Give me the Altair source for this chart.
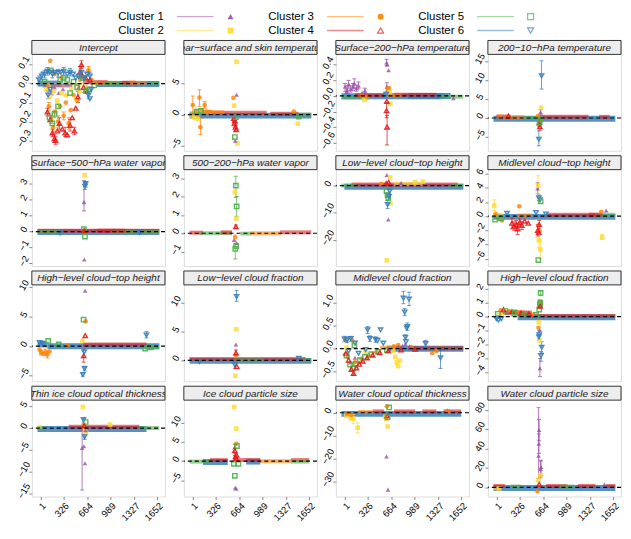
import altair as alt
import pandas as pd

CLUSTERS = ["Cluster 1", "Cluster 2", "Cluster 3", "Cluster 4", "Cluster 5", "Cluster 6"]
COLORS = ["#984EA3", "#FFD92F", "#FF7F00", "#E41A1C", "#4DAF4A", "#377EB8"]
SHAPES = ["triangle-up", "square", "circle", "triangle-up", "square", "triangle-down"]
LEG_COL = [0, 0, 1, 1, 2, 2]
LEG_ROW = [0, 1, 0, 1, 0, 1]
X_TICKS = [1, 326, 664, 989, 1327, 1652]
X_DOMAIN = [-120, 1760]

# ---------------- panel data: bands (cluster, x0, x1, y) and points (cluster, x, y[, lo, hi])
INTERCEPT_BANDS = [(6, -40, 300, 0.0), (2, 100, 600, -0.006), (1, 150, 450, -0.01), (4, 600, 950, 0.008),
                   (3, 700, 1100, 0.004), (6, 800, 1680, -0.002), (5, 900, 1250, 0.001), (4, 1150, 1350, 0.005),
                   (3, 1250, 1500, 0.004), (5, 1550, 1680, -0.002)]
INTERCEPT_PTS = [
    (3, 140, 0.12), (3, 90, -0.01), (3, 120, -0.12, -0.14, -0.10), (3, 150, -0.19, -0.21, -0.17), (3, 180, -0.23, -0.25, -0.21),
    (3, 210, -0.15), (3, 250, -0.20, -0.23, -0.17), (3, 280, -0.12), (3, 330, -0.17, -0.19, -0.15), (3, 360, -0.10),
    (3, 400, -0.21, -0.24, -0.18), (3, 430, -0.14), (3, 470, -0.06), (3, 520, -0.09), (3, 560, 0.02),
    (3, 680, 0.07, 0.05, 0.09), (3, 720, 0.02), (3, 300, 0.03), (3, 200, 0.05),
    (4, 100, -0.15, -0.17, -0.13), (4, 140, -0.19), (4, 170, -0.26, -0.28, -0.24), (4, 200, -0.29, -0.31, -0.27),
    (4, 215, -0.30, -0.32, -0.28), (4, 240, -0.25), (4, 270, -0.21, -0.24, -0.18), (4, 310, -0.24),
    (4, 350, -0.26, -0.28, -0.23), (4, 380, -0.27), (4, 420, -0.22, -0.25, -0.19), (4, 450, -0.18),
    (4, 480, -0.25, -0.27, -0.23), (4, 500, -0.13), (4, 530, -0.07, -0.10, -0.04), (4, 560, 0.06, 0.03, 0.09),
    (4, 580, 0.10, 0.08, 0.12), (4, 595, 0.04), (4, 610, -0.02), (4, 640, 0.03), (4, 660, -0.04), (4, 700, 0.02),
    (5, 150, 0.07), (5, 60, 0.01), (5, 130, -0.18, -0.20, -0.16), (5, 170, -0.21), (5, 200, -0.16, -0.18, -0.14),
    (5, 250, -0.12), (5, 280, 0.02), (5, 330, 0.03), (5, 380, 0.02), (5, 420, -0.05), (5, 470, 0.01),
    (5, 520, -0.02), (5, 600, 0.03), (5, 650, -0.04), (5, 690, -0.03), (5, 760, -0.01),
    (6, -20, 0.02, 0.0, 0.04), (6, 20, 0.04, 0.02, 0.06), (6, 60, 0.05, 0.03, 0.07), (6, 100, 0.065, 0.045, 0.085),
    (6, 130, 0.06), (6, 170, 0.05, 0.03, 0.07), (6, 210, 0.06), (6, 250, 0.055, 0.035, 0.075), (6, 290, 0.06),
    (6, 330, 0.065, 0.045, 0.085), (6, 380, 0.05), (6, 420, 0.06, 0.04, 0.08), (6, 460, 0.05), (6, 500, 0.03),
    (6, 540, 0.04), (6, 580, 0.06, 0.04, 0.09), (6, 620, 0.03), (6, 660, 0.05), (6, 700, 0.04, 0.02, 0.06),
    (6, 110, -0.06, -0.08, -0.04), (6, 140, -0.03), (6, 680, -0.06, -0.08, -0.04), (6, 700, -0.08), (6, 720, -0.03),
    (1, 60, -0.01), (1, 110, -0.03), (1, 160, -0.04, -0.06, -0.02), (1, 200, -0.02), (1, 260, -0.05),
    (1, 320, -0.03), (1, 380, 0.0), (1, 540, -0.02), (1, 620, -0.04), (1, 700, 0.01),
    (2, 80, -0.03), (2, 130, -0.07), (2, 190, -0.04), (2, 240, -0.09), (2, 300, -0.05), (2, 360, -0.06),
    (2, 440, -0.03), (2, 500, -0.08), (2, 560, -0.04), (2, 640, -0.02)]

NEARSURF_BANDS = [(6, -40, 1680, -0.15), (4, 250, 1050, 0.3), (5, -40, 200, 0.2), (3, 150, 450, 0.4),
                  (2, -40, 100, -0.3), (5, 1500, 1680, 0.0), (4, 1100, 1500, 0.15)]
NEARSURF_PTS = [
    (3, 6, 1.55, 0.1, 3.0), (3, 100, 2.75, 1.3, 4.0), (3, 114, -2.0, -3.2, -0.6), (3, 174, 1.55, 1.05, 2.1),
    (3, 50, 0.6), (3, 140, 0.7), (3, 200, 0.5), (3, 230, 0.4), (3, 260, 0.4), (5, 60, 0.5), (5, 120, 0.6),
    (2, 30, -0.5), (2, 80, -0.7), (1, 624, 3.2), (3, 580, 2.7), (2, 624, 8.5), (2, 590, 1.45), (2, 636, -4.6),
    (5, 600, -3.6), (1, 605, -4.2), (4, 585, -0.6, -1.2, -0.1), (4, 595, -1.4, -2.0, -0.8),
    (4, 610, -2.0, -2.6, -1.3), (4, 620, -2.4), (4, 600, -1.0), (3, 590, -0.9), (5, 615, -0.4),
    (3, 1433, 0.5), (2, 1489, -1.45), (5, 1500, -0.3)]

SURF200_BANDS = [(5, -40, 350, -0.02), (6, -40, 1400, -0.005), (4, 150, 560, 0.01), (4, 700, 1300, 0.015),
                 (6, 900, 1500, 0.0), (5, 1350, 1680, -0.01), (3, 600, 800, 0.005)]
SURF200_PTS = [
    (1, 10, 0.12, 0.06, 0.16), (1, 40, 0.08, 0.04, 0.13), (1, 60, 0.15, 0.10, 0.20), (1, 90, 0.09, 0.05, 0.13),
    (1, 120, 0.12, 0.07, 0.16), (1, 140, 0.16, 0.10, 0.22), (1, 170, 0.10, 0.06, 0.14), (1, 200, 0.13, 0.09, 0.18),
    (1, 290, 0.07, 0.04, 0.10), (1, 30, 0.05), (1, 250, 0.04), (2, 283, -0.05), (3, 250, 0.0), (3, 320, -0.01),
    (1, 596, 0.43, 0.39, 0.47), (1, 606, 0.40), (1, 625, 0.33), (1, 600, 0.12, 0.06, 0.17), (3, 612, 0.09),
    (3, 630, 0.1), (2, 640, 0.05), (2, 650, -0.1), (4, 600, -0.07), (4, 596, -0.19, -0.28, -0.08),
    (4, 603, -0.40, -0.63, -0.25), (6, 590, 0.02), (1, 1540, -0.03)]

TEMP10_BANDS = [(6, -40, 1680, -0.2), (4, 0, 200, 0.4), (4, 600, 1300, 0.3), (3, 100, 400, 0.2),
                (5, 400, 650, 0.0), (4, 1450, 1600, 0.3)]
TEMP10_PTS = [(6, 638, 11.1, 7.6, 15.0), (6, 600, -5.6, -7.3, -3.4), (2, 630, 2.7), (1, 625, 1.5, 0.8, 2.2),
              (4, 605, -1.3, -2.3, -0.5), (4, 615, -2.3, -3.2, -1.4), (5, 620, -0.4), (5, 610, -1.1),
              (3, 48, 0.4), (4, 170, 0.5), (3, 590, 0.6)]

WV500_BANDS = [(4, -40, 1680, 0.05), (6, -40, 1680, -0.03), (5, -40, 300, 0.0), (5, 1000, 1680, -0.02),
               (4, 800, 1200, 0.06)]
WV500_PTS = [(2, 624, 3.54), (6, 640, 3.0, 2.8, 3.15), (6, 630, 2.85, 2.65, 3.05), (1, 617, 1.85, 1.3, 3.2),
             (1, 620, -1.75), (5, 630, -0.31), (3, 625, -0.1), (5, 615, 0.15), (4, 620, 0.05),
             (6, 280, -0.08), (6, 1400, -0.05)]

WV200_BANDS = [(4, -40, 150, 0.03), (5, 100, 560, 0.0), (4, 400, 560, 0.05), (5, 680, 830, -0.02),
               (3, 820, 1250, 0.0), (4, 1240, 1680, 0.05)]
WV200_PTS = [(5, 614, 2.59, 1.95, 3.1), (5, 625, 1.46, 0.9, 2.0), (2, 600, 2.23), (2, 620, 0.8),
             (4, 615, 0.36, 0.25, 0.45), (1, 590, -0.36), (1, 625, -0.53), (3, 605, -0.2),
             (5, 606, -0.85, -1.4, -0.55), (5, 618, -0.7)]

LOWCTH_BANDS = [(6, 0, 1680, -0.4), (4, 100, 1600, 0.4), (5, -40, 150, 0.0), (2, 700, 1100, 0.6), (5, 1500, 1680, 0.0)]
LOWCTH_PTS = [(1, 600, 3.9), (2, 647, 3.0), (4, 625, 1.2), (1, 620, -12.5), (2, 600, -27.6), (5, 595, -2.0),
              (5, 610, -3.5), (5, 620, -4.6), (6, 610, -7.0, -8.5, -5.5), (6, 630, -4.0, -5.0, -3.0),
              (6, 640, -2.0), (2, 650, -6.6), (1, 800, 1.0), (2, 1000, 1.3), (2, 1110, 1.5), (3, 520, 0.6), (4, 590, 0.8)]

MIDCTH_BANDS = [(6, -40, 1680, -0.1), (4, 700, 1400, 0.2), (3, 300, 500, 0.1), (5, 1400, 1680, 0.2),
                (2, -40, 100, 0.2), (4, 1300, 1500, 0.2)]
MIDCTH_PTS = [
    (2, -30, 1.5, 0.8, 2.3), (3, 324, 1.4), (3, -10, 0.3), (5, -20, -0.5), (5, 60, -0.3), (3, 80, -0.6), (6, 150, 0.4),
    (4, 220, -1.0, -1.8, -0.3), (4, 250, -1.4, -2.0, -0.8), (4, 280, -1.2, -1.8, -0.6), (4, 300, -1.8, -2.6, -1.0),
    (4, 330, -0.9, -1.4, -0.4), (4, 360, -1.3, -1.9, -0.7), (4, 400, -0.7), (4, 450, -1.0),
    (1, 582, 3.9, 3.2, 4.7), (2, 590, 4.3, 3.2, 5.7), (2, 600, -3.4, -4.5, -2.3), (2, 620, -4.7, -6.0, -3.5),
    (6, 600, 2.6, 2.2, 3.0), (6, 615, 2.3), (5, 625, 2.1), (5, 592, -6.2), (4, 585, -2.0, -2.8, -1.2),
    (4, 598, -2.3), (4, 605, -1.2, -1.8, -0.6), (3, 595, -1.3), (3, 610, -2.1), (2, 1494, -3.0, -3.3, -2.6),
    (1, 1550, 0.8), (3, 1480, 0.6), (6, 560, 0.5), (6, 700, 0.3)]

HIGHCTH_BANDS = [(6, 100, 1680, 0.0), (4, 600, 1500, 0.3), (5, 1480, 1680, -0.2), (6, -40, 100, 0.3)]
HIGHCTH_PTS = [(1, 633, 9.4), (5, 610, 4.5), (3, 640, 4.2), (4, 633, 1.8), (2, 595, 0.9), (4, 612, -1.6, -2.7, -0.5),
               (6, 620, -1.0), (6, 625, -3.8, -4.2, -3.4), (6, 600, -4.8, -5.1, -4.5), (3, -10, -0.6),
               (3, 10, -1.1, -1.5, -0.7), (3, 40, -1.3), (3, 70, -1.0, -1.6, -0.5), (3, 100, -1.4, -2.0, -0.8),
               (3, 130, -0.9), (6, -10, 0.6), (6, 30, 0.5), (5, 110, 0.9), (5, 260, 0.3), (3, 380, 0.1),
               (6, 1498, 1.9, 1.4, 2.5), (5, 1480, -0.4), (5, 1560, -0.2)]

LOWCF_BANDS = [(6, -40, 1680, -0.1), (4, -40, 1600, 0.25), (5, 600, 1000, 0.0), (5, 1550, 1680, 0.0)]
LOWCF_PTS = [(6, 624, 11.1, 10.3, 12.2), (2, 620, 5.4), (1, 615, 2.75), (4, 615, 1.3, 0.9, 1.8), (3, 618, 0.9),
             (6, 600, -0.8, -1.4, -0.3), (2, 605, -2.7), (4, 628, -1.1), (6, 1503, 0.35), (6, 100, -0.2)]

MIDCF_BANDS = [(6, 600, 1680, 0.0), (4, 900, 1680, 0.01), (3, 500, 800, 0.02)]
MIDCF_PTS = [
    (6, 2, 0.21, 0.15, 0.27), (6, 40, 0.19, 0.13, 0.25), (6, 91, 0.22, 0.16, 0.27), (6, 150, 0.12),
    (6, 329, 0.41, 0.33, 0.48), (6, 360, 0.22, 0.16, 0.28), (6, 440, 0.2, 0.14, 0.26), (6, 470, 0.18),
    (6, 511, 0.41), (6, 550, 0.12), (6, 834, 1.1, 0.98, 1.25), (6, 914, 1.08, 0.94, 1.23), (6, 852, 0.8, 0.72, 0.88),
    (6, 890, 0.48, 0.40, 0.56), (6, 880, 0.45), (6, 862, 0.25, 0.2, 0.3), (6, 870, 0.15), (6, 1147, 0.11, 0.05, 0.18),
    (6, 1358, -0.2, -0.43, -0.04), (6, 60, -0.05), (6, 200, -0.1), (6, 300, -0.02),
    (3, 20, 0.18), (3, 110, 0.18), (3, 700, 0.05), (3, 760, 0.08), (3, 1241, -0.1), (3, 1300, -0.05), (3, 950, 0.03),
    (5, 142, 0.07), (5, 30, -0.15), (5, 80, -0.35), (5, 120, -0.43), (5, 160, -0.33), (5, 220, -0.25),
    (5, 290, -0.18), (5, 380, -0.12), (5, 480, -0.07), (5, 600, -0.03),
    (4, 20, -0.1), (4, 60, -0.25), (4, 100, -0.45), (4, 130, -0.54, -0.58, -0.48), (4, 170, -0.42), (4, 210, -0.34),
    (4, 260, -0.27), (4, 320, -0.2), (4, 400, -0.14), (4, 500, -0.09), (4, 620, -0.05), (4, 800, -0.03), (4, 1000, -0.01),
    (3, 50, -0.18), (3, 150, -0.3), (3, 240, -0.22), (3, 340, -0.15), (3, 450, -0.08),
    (1, 760, 0.04), (1, 820, 0.06), (1, 860, 0.1), (1, 920, 0.05), (1, 1100, 0.02), (1, 150, -0.2), (1, 90, -0.3),
    (2, 30, 0.02), (2, 720, -0.18), (2, 740, -0.3), (2, 760, -0.38), (2, 780, -0.26), (2, 690, -0.05), (2, 300, -0.08)]

HIGHCF_BANDS = [(6, 300, 1680, -0.05), (4, 400, 1680, 0.05), (5, 200, 500, 0.15), (3, 100, 400, 0.3), (4, 50, 500, 0.3)]
HIGHCF_PTS = [
    (5, 20, 0.2), (3, 60, 0.45), (4, 100, 0.5), (5, 130, 0.4), (3, 180, 0.38), (4, 220, 0.35), (5, 260, 0.3),
    (3, 300, 0.25), (4, 350, 0.25), (5, 400, 0.2), (4, 460, 0.2), (3, 520, 0.15), (5, 560, 0.12), (2, 80, 0.2),
    (1, 150, 0.25), (6, 0, -0.15), (6, 30, -0.25), (6, 70, -0.15), (2, 40, 0.1),
    (5, 625, 1.69, 1.5, 1.85), (5, 620, 1.0), (5, 615, 0.9, 0.6, 1.2), (5, 605, 0.5), (3, 625, 1.0), (4, 618, 0.75),
    (6, 605, -1.3, -1.6, -1.0), (6, 600, -1.45), (6, 640, -2.2, -2.6, -1.8), (6, 630, -2.8, -3.2, -2.5),
    (1, 615, -3.7, -4.3, -3.0), (2, 598, -0.4), (2, 610, -1.7), (3, 595, -0.8), (1, 612, -1.0)]

THINICE_BANDS = [(6, -40, 1500, -0.2), (4, 400, 1400, 0.3), (5, 1400, 1680, 0.0), (5, -40, 60, 0.0), (2, -40, 20, 0.3)]
THINICE_PTS = [(2, 600, 4.9), (6, 610, 1.9, 1.4, 2.4), (5, 640, 1.4), (2, 630, -0.4), (2, 645, -1.1),
               (6, 625, -2.0, -2.6, -1.4), (1, 590, -4.6, -14.3, -0.5), (1, 615, -4.2), (1, 630, -8.1),
               (4, 620, 0.5), (3, 610, 0.7), (2, 984, 0.8), (1, 640, -0.5)]

ICESIZE_BANDS = [(5, -40, 260, -0.1), (6, 150, 500, -0.2), (4, 250, 500, 0.3), (4, 640, 960, 0.3),
                 (6, 760, 960, -0.1), (3, 960, 1390, 0.0), (4, 1390, 1650, 0.3), (5, 1390, 1650, -0.1)]
ICESIZE_PTS = [(2, 591, 14.3), (2, 620, 8.6), (3, 620, 4.6), (5, 630, 4.0), (1, 595, 3.6), (4, 600, 2.8, 1.5, 4.5),
               (4, 610, 1.2, 0.4, 2.0), (4, 625, 1.6), (4, 615, 0.7), (5, 585, -0.7), (5, 650, -0.7),
               (5, 600, -3.85), (1, 620, -7.25), (1, 605, -7.0)]

WATEROT_BANDS = [(6, -40, 1650, -0.5), (4, 400, 560, 0.6), (4, 700, 1000, 0.6), (4, 1100, 1300, 0.6),
                 (4, 1400, 1650, 0.6), (3, 200, 400, 0.3)]
WATEROT_PTS = [(2, 25, -1.3), (2, 60, -0.8), (2, 95, -2.2, -3.5, -1.0), (2, 125, -2.6, -4.8, -0.8),
               (2, 189, -6.5, -8.8, -4.5), (3, 40, -0.5), (3, 95, -1.0), (3, 600, 2.8), (5, 633, 2.3),
               (2, 590, -2.8), (2, 612, -6.0), (2, 580, -1.7), (4, 605, -1.4), (5, 610, -2.0),
               (1, 595, -19.1), (1, 615, -33.6), (1, 1451, 1.1), (1, 1480, 0.8), (3, 1465, 0.5)]

WATERSIZE_BANDS = [(6, -40, 1680, -0.5), (4, 700, 1000, 1.5), (4, 1150, 1400, 1.5), (4, 1550, 1680, 1.5),
                   (5, 200, 350, 1.0), (5, 900, 1100, 1.0), (2, -40, 50, -1.0), (4, -40, 120, 1.5)]
WATERSIZE_PTS = [(1, 596, 32.5, 9, 82), (1, 603, 59, 48, 70), (1, 600, 45, 35, 55), (1, 630, 21, 12, 28),
                 (1, 625, 19, 10, 27), (2, 620, 12.7), (2, 591, 7.7), (3, 580, -4), (4, 605, 3.3),
                 (1, 1526, 3), (2, 40, -1)]

PANELS = [
    ("Intercept", (-0.354, 0.154), [-0.3, -0.2, -0.1, 0, 0.1], ".1f", INTERCEPT_BANDS, INTERCEPT_PTS),
    ("Near\u2212surface and skin temperature", (-5.8, 9.7), [-5, 0, 5], "d", NEARSURF_BANDS, NEARSURF_PTS),
    ("Surface\u2212200\u2212hPa temperature", (-0.704, 0.534), [-0.6, -0.4, -0.2, 0, 0.2, 0.4], ".1f", SURF200_BANDS, SURF200_PTS),
    ("200\u221210\u2212hPa temperature", (-8.6, 16.7), [-5, 0, 5, 10, 15], "d", TEMP10_BANDS, TEMP10_PTS),
    ("Surface\u2212500\u2212hPa water vapor", (-2.16, 3.89), [-2, -1, 0, 1, 2, 3], "d", WV500_BANDS, WV500_PTS),
    ("500\u2212200\u2212hPa water vapor", (-1.78, 3.46), [-1, 0, 1, 2, 3], "d", WV200_BANDS, WV200_PTS),
    ("Low\u2212level cloud\u2212top height", (-29.7, 5.9), [-20, -10, 0], "d", LOWCTH_BANDS, LOWCTH_PTS),
    ("Midlevel cloud\u2212top height", (-7.04, 6.57), [-6, -4, -2, 0, 2, 4, 6], "d", MIDCTH_BANDS, MIDCTH_PTS),
    ("High\u2212level cloud\u2212top height", (-5.95, 10.4), [-5, 0, 5, 10], "d", HIGHCTH_BANDS, HIGHCTH_PTS),
    ("Low\u2212level cloud fraction", (-3.65, 13.15), [0, 5, 10], "d", LOWCF_BANDS, LOWCF_PTS),
    ("Midlevel cloud fraction", (-0.71, 1.39), [-0.5, 0, 0.5, 1.0], ".1f", MIDCF_BANDS, MIDCF_PTS),
    ("High\u2212level cloud fraction", (-4.63, 2.27), [-4, -3, -2, -1, 0, 1, 2], "d", HIGHCF_BANDS, HIGHCF_PTS),
    ("Thin ice cloud optical thickness", (-15.8, 6.45), [-15, -10, -5, 0, 5], "d", THINICE_BANDS, THINICE_PTS),
    ("Ice cloud particle size", (-9.3, 16.1), [-5, 0, 5, 10], "d", ICESIZE_BANDS, ICESIZE_PTS),
    ("Water cloud optical thickness", (-36.6, 5.5), [-30, -20, -10, 0], "d", WATEROT_BANDS, WATEROT_PTS),
    ("Water cloud particle size", (-9.3, 89.7), [0, 20, 40, 60, 80], "d", WATERSIZE_BANDS, WATERSIZE_PTS),
]

W, H, STRIP = 134, 111, 14
FONT = "Liberation Sans"

color_enc = alt.Color("cl:N", scale=alt.Scale(domain=CLUSTERS, range=COLORS), legend=None)
shape_enc = alt.Shape("cl:N", scale=alt.Scale(domain=CLUSTERS, range=SHAPES), legend=None)


def pts_frame(pts):
    rows = []
    for p in pts:
        lo, hi = (p[3], p[4]) if len(p) == 5 else (p[2], p[2])
        rows.append({"cl": CLUSTERS[p[0] - 1], "x": p[1], "y": p[2], "lo": lo, "hi": hi, "err": len(p) == 5,
                     "filled": p[0] <= 3})
    return pd.DataFrame(rows)


def make_panel(title, dom, ticks, fmt, bands, pts, bottom):
    xsc = alt.Scale(domain=X_DOMAIN, nice=False, zero=False)
    ysc = alt.Scale(domain=list(dom), range=[H, STRIP], nice=False, zero=False)
    if bottom:
        xax = alt.Axis(values=X_TICKS, format="d", labelAngle=315, labelAlign="right", labelBaseline="top",
                       title=None, tickSize=3, labelPadding=1, labelFontSize=9.5, grid=False, domain=False,
                       labelOverlap=False, labelFlush=False)
    else:
        xax = None
    yax = alt.Axis(values=ticks, format=fmt, labelAngle=300, labelAlign="center", labelBaseline="bottom",
                   title=None, tickSize=3, labelPadding=1, labelFontSize=9.5, grid=False, domain=False,
                   labelOverlap=False, labelFlush=False)

    def X(f):
        return alt.X(f, scale=xsc, axis=xax)

    def Y(f):
        return alt.Y(f, scale=ysc, axis=yax)

    bdf = pd.DataFrame([{"cl": CLUSTERS[b[0] - 1], "x0": b[1], "x1": b[2], "y": b[3], "blue": b[0] == 6}
                        for b in bands])
    pdf = pts_frame(pts)
    layers = []
    blue_b = bdf[bdf["blue"]]
    other_b = bdf[~bdf["blue"]]
    if len(blue_b):
        layers.append(alt.Chart(blue_b).mark_rule(strokeWidth=6, opacity=0.85).encode(
            x=X("x0:Q"), x2="x1:Q", y=Y("y:Q"), color=color_enc))
    if len(other_b):
        layers.append(alt.Chart(other_b).mark_rule(strokeWidth=4, opacity=0.6).encode(
            x=X("x0:Q"), x2="x1:Q", y=Y("y:Q"), color=color_enc))
    edf = pdf[pdf["err"]]
    if len(edf):
        layers.append(alt.Chart(edf).mark_rule(strokeWidth=1, opacity=0.75).encode(
            x=X("x:Q"), y=Y("lo:Q"), y2="hi:Q", color=color_enc))
        for f in ("lo:Q", "hi:Q"):
            layers.append(alt.Chart(edf).mark_tick(orient="horizontal", size=4, thickness=1, opacity=0.75).encode(
                x=X("x:Q"), y=Y(f), color=color_enc))
    fdf = pdf[pdf["filled"]]
    odf = pdf[~pdf["filled"]]
    if len(fdf):
        layers.append(alt.Chart(fdf).mark_point(filled=True, size=22, opacity=0.8).encode(
            x=X("x:Q"), y=Y("y:Q"), color=color_enc, shape=shape_enc))
    if len(odf):
        layers.append(alt.Chart(odf).mark_point(filled=False, size=19, strokeWidth=1.4, opacity=0.9).encode(
            x=X("x:Q"), y=Y("y:Q"), color=color_enc, shape=shape_enc))
    layers.append(alt.Chart(pd.DataFrame({"z": [0]})).mark_rule(
        color="black", strokeDash=[4, 3], strokeWidth=1.2).encode(y=Y("z:Q")))
    tdf = pd.DataFrame({"t": [title]})
    layers.append(alt.Chart(tdf).mark_rect(fill="#ededed", stroke="#333333", strokeWidth=1).encode(
        x=alt.value(0), x2=alt.value(W), y=alt.value(0), y2=alt.value(STRIP)))
    layers.append(alt.Chart(tdf).mark_text(fontStyle="italic", fontSize=10, font=FONT, clip=True,
                                           color="#1a1a1a", baseline="middle").encode(
        x=alt.value(W / 2), y=alt.value(STRIP / 2 + 0.5), text="t:N"))
    return alt.layer(*layers).properties(width=W, height=H)


panels = [make_panel(*p, bottom=(i >= 12)) for i, p in enumerate(PANELS)]
grid = alt.ConcatChart(concat=panels, columns=4, spacing={"row": 5, "column": 19}, bounds="flush")

leg_df = pd.DataFrame({"cl": CLUSTERS, "col": LEG_COL, "row": LEG_ROW,
                       "filled": [True, True, True, False, False, False]})
lx = alt.X("col:Q", scale=alt.Scale(domain=[0, 2], range=[87, 389]), axis=None)
ly = alt.Y("row:Q", scale=alt.Scale(domain=[0, 1], range=[4, 18]), axis=None)
leg = alt.layer(
    alt.Chart(leg_df).mark_text(align="left", baseline="middle", fontSize=11.5, font=FONT, color="black").encode(
        x=lx, y=ly, text="cl:N"),
    alt.Chart(leg_df).mark_rule(xOffset=59, x2Offset=96, strokeWidth=1.5, opacity=0.5).encode(
        x=lx, x2="col:Q", y=ly, color=color_enc),
    alt.Chart(leg_df[leg_df["filled"]]).mark_point(xOffset=113, filled=True, size=36, opacity=0.9).encode(
        x=lx, y=ly, color=color_enc, shape=shape_enc),
    alt.Chart(leg_df[~leg_df["filled"]]).mark_point(xOffset=113, filled=False, size=36, strokeWidth=1.2).encode(
        x=lx, y=ly, color=color_enc, shape=shape_enc),
).properties(width=560, height=26, view=alt.ViewBackground(stroke="transparent"))

chart = alt.VConcatChart(vconcat=[leg, grid], spacing=0,
                         padding={"left": 6, "top": 0, "right": 0, "bottom": 0}).configure_view(
    stroke="#333333", strokeWidth=1).configure_axis(
    labelFont=FONT, labelColor="#4d4d4d", tickColor="#333333").configure(font=FONT)

chart.save("out.html", embed_options={"renderer": "svg", "actions": False})
